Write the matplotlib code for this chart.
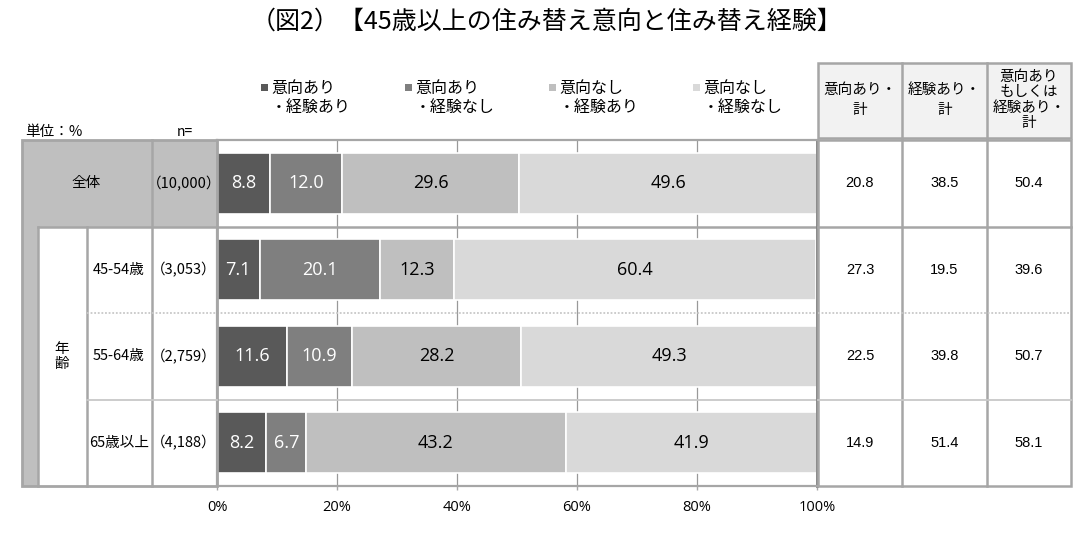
import matplotlib
matplotlib.use('Agg')
import matplotlib.pyplot as plt
from matplotlib.patches import Rectangle

plt.rcParams['font.family'] = ['Noto Sans CJK JP', 'DejaVu Sans']

# --- data ---
title = '（図2）【45歳以上の住み替え意向と住み替え経験】'
groups = ['全体', '45-54歳', '55-64歳', '65歳以上']
n_labels = ['（10,000）', '（3,053）', '（2,759）', '（4,188）']
series_names = ['意向あり\n・経験あり', '意向あり\n・経験なし',
                '意向なし\n・経験あり', '意向なし\n・経験なし']
intent_exp = [8.8, 7.1, 11.6, 8.2]
intent_noexp = [12.0, 20.1, 10.9, 6.7]
nointent_exp = [29.6, 12.3, 28.2, 43.2]
nointent_noexp = [49.6, 60.4, 49.3, 41.9]
total_names = ['意向あり・\n計', '経験あり・\n計', '意向あり\nもしくは\n経験あり・\n計']
total_intent = [20.8, 27.3, 22.5, 14.9]
total_exp = [38.5, 19.5, 39.8, 51.4]
total_either = [50.4, 39.6, 50.7, 58.1]
xticks = [0, 20, 40, 60, 80, 100]

series = [intent_exp, intent_noexp, nointent_exp, nointent_noexp]
totals = [total_intent, total_exp, total_either]
colors = ['#595959', '#7f7f7f', '#bfbfbf', '#d9d9d9']
label_colors = ['white', 'white', 'black', 'black']
line_dark = '#a6a6a6'
line_light = '#c8c8c8'

W, H = 1092, 541
fig = plt.figure(figsize=(W / 100, H / 100), dpi=100)

# plot area in pixels: x 217..817, y 140..486
top, bot = 140, 486
ax = fig.add_axes([217 / W, 1 - bot / H, 600 / W, (bot - top) / H])
ov = fig.add_axes([0, 0, 1, 1], zorder=3)
ov.set_xlim(0, W)
ov.set_ylim(H, 0)
ov.axis('off')
ov.patch.set_visible(False)

# --- stacked bars ---
ypos = list(range(len(groups)))
left = [0.0] * len(groups)
for vals, c, tc in zip(series, colors, label_colors):
    bars = ax.barh(ypos, vals, left=left, height=0.71, color=c,
                   edgecolor='white', linewidth=1.2, zorder=2)
    ax.bar_label(bars, labels=[f'{v:.1f}' for v in vals], label_type='center',
                 color=tc, fontsize=13, family='Open Sans')
    left = [l + v for l, v in zip(left, vals)]

ax.set_xlim(0, 100)
ax.set_ylim(len(groups) - 0.5, -0.5)
ax.set_yticks([])
ax.set_xticks(xticks)
ax.set_xticklabels([f'{t}%' for t in xticks], family='Open Sans')
ax.tick_params(axis='x', length=3, width=1, color=line_dark, labelsize=10.5, pad=7)
ax.grid(axis='x', color='#999999', lw=0.9, zorder=0)
ax.set_axisbelow(True)
for side in ['top', 'left', 'bottom']:
    ax.spines[side].set_color(line_dark)
    ax.spines[side].set_linewidth(1.6)
ax.spines['right'].set_color('#808080')
ax.spines['right'].set_linewidth(2)

ax.axhline(0.5, color=line_dark, lw=1.8, zorder=1.5)
ax.axhline(1.5, color=line_light, lw=1.3, ls=(0, (1, 1)), zorder=1.5)
ax.axhline(2.5, color=line_light, lw=1.3, zorder=1.5)

# --- left table ---
rh = (bot - top) / len(groups)
rows = [top + i * rh for i in range(len(groups) + 1)]
centers = [top + (i + 0.5) * rh for i in range(len(groups))]

ov.add_patch(Rectangle((22, top), 195, rh, facecolor='#bfbfbf', edgecolor='none'))
ov.add_patch(Rectangle((22, rows[1]), 16, bot - rows[1], facecolor='#bfbfbf', edgecolor='none'))
ov.add_patch(Rectangle((22, top), 195, bot - top, facecolor='none', edgecolor=line_dark, lw=2))
ov.plot([152, 152], [top, bot], color=line_dark, lw=1.8)
ov.plot([87, 87], [rows[1], bot], color=line_dark, lw=1.8)
ov.plot([38, 38], [rows[1], bot], color=line_dark, lw=1.8)
ov.plot([38, 217], [rows[1], rows[1]], color=line_dark, lw=1.8)
ov.plot([87, 217], [rows[2], rows[2]], color=line_light, lw=1.3, ls=(0, (1, 1)))
ov.plot([87, 217], [rows[3], rows[3]], color=line_light, lw=1.3)

ov.text(25, 132, '単位：%', fontsize=10.5, ha='left', va='center')
ov.text(185, 132, 'n=', fontsize=10, ha='center', va='center')
ov.text(86, centers[0], groups[0], fontsize=10.5, ha='center', va='center')
for i in range(1, len(groups)):
    ov.text(119, centers[i], groups[i], fontsize=10.5, ha='center', va='center')
for i, lab in enumerate(n_labels):
    ov.text(184, centers[i], lab, fontsize=10.5, ha='center', va='center')
ov.text(62, (rows[1] + bot) / 2, '年\n齢', fontsize=10.5, ha='center', va='center',
        linespacing=1.1)

# --- legend ---
for k, (name, c) in enumerate(zip(series_names, colors)):
    x0 = 261 + k * 144
    ov.add_patch(Rectangle((x0, 84), 7, 7, facecolor=c, edgecolor='none'))
    first, second = name.split('\n')
    ov.text(x0 + 10, 88, first, fontsize=11.5, ha='left', va='center')
    ov.text(x0 + 10, 107, second, fontsize=11.5, ha='left', va='center')

# --- right table ---
rx = [818, 902, 987, 1071]
ov.add_patch(Rectangle((rx[0], 63), rx[-1] - rx[0], 75, facecolor='#f2f2f2',
                       edgecolor=line_dark, lw=1.8))
ov.add_patch(Rectangle((rx[0], top), rx[-1] - rx[0], bot - top, facecolor='white',
                       edgecolor=line_dark, lw=1.8))
for x in rx[1:-1]:
    ov.plot([x, x], [63, 138], color=line_dark, lw=1.8)
    ov.plot([x, x], [top, bot], color=line_dark, lw=1.8)
ov.plot([rx[0], rx[-1]], [rows[1], rows[1]], color=line_dark, lw=1.8)
ov.plot([rx[0], rx[-1]], [rows[2], rows[2]], color=line_light, lw=1.3, ls=(0, (1, 1)))
ov.plot([rx[0], rx[-1]], [rows[3], rows[3]], color=line_light, lw=1.3)

for j, (name, vals) in enumerate(zip(total_names, totals)):
    cx = (rx[j] + rx[j + 1]) / 2
    ls = 1.5 if name.count('\n') == 1 else 1.12
    ov.text(cx, 100, name, fontsize=10.5, ha='center', va='center',
            linespacing=ls, multialignment='center')
    for i, v in enumerate(vals):
        ov.text(cx, centers[i], f'{v:.1f}', fontsize=10.5, ha='center', va='center',
                family='Liberation Sans')

# --- title ---
ov.text(W / 2, 22, title, fontsize=18, ha='center', va='center')

fig.savefig('out.png', dpi=100)
